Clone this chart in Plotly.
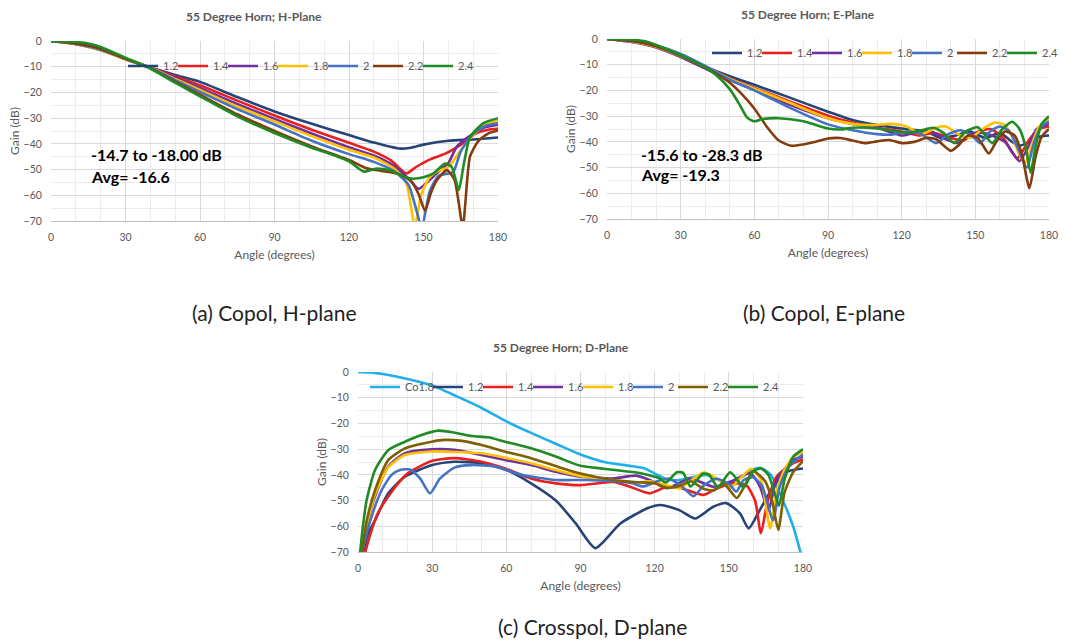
import plotly.graph_objects as go

# ---------------- DATA (angle in degrees, gain in dB) ----------------
SERIES_LABELS = ["1.2", "1.4", "1.6", "1.8", "2", "2.2", "2.4"]

# H-plane copol
H12 = [(0,0),(5,-0.3),(10,-1.2),(20,-3.5),(30,-6.8),(40,-10.3),(50,-13.2),(60,-15.9),(75,-21.8),(90,-27.4),(105,-32.2),(120,-36.6),(130,-39.5),(140,-41.8),(145,-41.5),(150,-40.3),(160,-38.8),(170,-38.3),(180,-37.5)]
H14 = [(0,0),(10,-1.1),(20,-3.3),(30,-6.8),(40,-10.3),(50,-13.8),(60,-17.2),(75,-23.2),(90,-29),(105,-34.5),(120,-39.6),(130,-43),(137,-46.5),(143,-51.5),(147,-49),(152,-46.3),(159,-43.7),(166,-39.7),(171,-36),(176,-34.5),(180,-34)]
H16 = [(0,0),(10,-1.2),(20,-3.5),(30,-7),(40,-10.3),(50,-14.3),(60,-18.3),(75,-24.5),(90,-30.3),(105,-36),(120,-41.3),(130,-44.5),(138,-48.5),(144,-53.5),(148,-57.5),(152,-54.5),(157,-50),(160,-47.5),(163.5,-41),(170,-36),(175,-33.5),(180,-32.5)]
H18 = [(0,0),(10,-1.3),(20,-3.6),(30,-7.2),(40,-10.4),(50,-14.8),(60,-19),(75,-25.5),(90,-31.2),(105,-37),(120,-42.3),(130,-45.3),(138,-49.5),(143,-55),(146.5,-72),(149,-60),(152.5,-53),(156,-50.5),(160,-49),(165,-42.5),(170,-36.5),(175,-32.5),(180,-31)]
H20 = [(0,0),(10,-1.2),(20,-3.4),(30,-7),(40,-10.5),(50,-15.2),(60,-19.8),(75,-26.5),(90,-32.5),(105,-38.8),(120,-44),(130,-47),(138,-50.5),(144,-56),(149.3,-72),(152.5,-58.5),(156,-52.5),(160,-51.5),(162,-51),(165,-43),(170,-36),(175,-33),(180,-32)]
H22 = [(0,0),(10,-1),(20,-3),(30,-6.9),(40,-10.6),(50,-15.8),(60,-20.9),(75,-28.5),(90,-35),(105,-41),(120,-46.3),(127,-49.5),(133,-50.5),(140,-51.7),(145,-54.5),(148,-59.5),(150.6,-66),(153,-59),(155.5,-54),(159.4,-50.2),(162.5,-54),(165.8,-72),(168.7,-45),(172,-39),(176,-36),(180,-34.8)]
H24 = [(0,0),(10,-0.4),(15,-1),(20,-2.3),(30,-6.5),(40,-10.7),(50,-16.2),(60,-21.5),(75,-29.3),(90,-35.8),(105,-41.5),(115,-44.8),(120,-46.8),(126,-50.8),(131,-49.6),(136.5,-50.3),(141,-52.3),(145,-53.5),(150,-53),(154,-51.5),(158.7,-47.7),(161.4,-49),(164.2,-58),(166.3,-47.5),(168.7,-37.5),(174,-32),(180,-30)]

# E-plane copol
E12 = [(0,0),(10,-0.8),(15,-1.5),(20,-2.8),(30,-6.5),(40,-10.8),(50,-14.5),(60,-17.8),(75,-23),(90,-28.3),(100,-31.5),(110,-33.5),(120,-34.8),(130,-36),(136,-38.5),(142,-37.5),(148,-36),(154,-38.5),(160,-36.5),(165,-40),(168,-41.5),(172,-40),(176,-38),(180,-37.5)]
E14 = [(0,0),(10,-1),(20,-3),(30,-6.8),(40,-11),(50,-15.3),(60,-19),(75,-24.5),(90,-29.8),(100,-32.5),(110,-34.5),(120,-36),(127,-37.5),(133,-36.5),(140,-38.5),(145,-39.5),(150,-36.5),(156,-35),(161,-38),(165,-44),(167,-46.5),(169,-44),(172,-39),(176,-35),(180,-34)]
E16 = [(0,0),(10,-1.2),(20,-3.3),(30,-7),(40,-11.5),(50,-16),(60,-19.8),(75,-25.8),(90,-30.8),(100,-33),(110,-34.5),(120,-37.5),(125,-36.5),(132,-36),(138,-39),(143,-40.5),(148,-37),(153,-36.5),(158,-38),(162,-40),(165,-44),(168,-47.5),(171,-43),(175,-35),(180,-33)]
E18 = [(0,0),(10,-1),(20,-3),(30,-6.6),(40,-10.8),(50,-15.5),(60,-19.3),(75,-25),(90,-30.8),(100,-33),(108,-33.5),(115,-33),(122,-34),(128,-37),(134,-34.5),(138,-34),(143,-37),(148,-38.5),(153,-35),(158,-32.5),(162,-33.5),(165,-38),(168,-45),(170.5,-48),(173,-41),(176,-34),(180,-31)]
E20 = [(0,0),(10,-0.8),(20,-2.5),(30,-5.8),(40,-10.5),(50,-15.8),(60,-20),(75,-27),(90,-33.2),(100,-35.5),(110,-37),(116,-37.2),(122,-36),(128,-37),(134,-40.5),(139,-37),(144,-35.5),(149,-38),(152,-40.5),(156,-36),(160,-34),(164,-36),(168,-44),(171,-50),(174,-40),(177,-34),(180,-32)]
E22 = [(0,0),(10,-0.8),(20,-2.8),(30,-6.5),(40,-11),(45,-13.8),(50,-17),(55,-21.5),(60,-27),(65,-34),(70,-39.5),(75,-41.5),(80,-41),(85,-40),(90,-38.7),(95,-38.5),(100,-39.5),(105,-40.5),(110,-39.8),(115,-39.3),(120,-40.5),(125,-40),(130,-38.5),(134,-39),(140,-43.5),(143,-41.5),(147,-37.5),(151,-38.5),(155.5,-44.5),(158.5,-40),(162,-36),(166,-37.5),(169,-45),(172,-58),(174.5,-46),(177,-38),(180,-35)]
E24 = [(0,0),(10,-0.3),(15,-0.8),(20,-2.3),(30,-6.3),(40,-11),(45,-14.5),(50,-19.5),(54,-25.5),(57,-30.5),(60,-32),(63,-31.2),(70,-30.8),(80,-32),(90,-34.8),(95,-35.2),(100,-34.5),(110,-34.8),(120,-36.3),(126,-36),(133,-34.5),(137,-36.5),(141.5,-40.5),(146,-36),(151,-34.3),(154,-37.5),(157,-40.5),(161,-35),(165,-32.2),(168,-35),(170.5,-42),(172.5,-52),(174.5,-42),(177,-33),(180,-30)]

# D-plane: copol 1.8 and crosspol
D_CO18 = [(0,0),(5,-0.2),(10,-0.8),(20,-2.7),(30,-5.2),(40,-9.5),(50,-14),(60,-19.2),(70,-23.7),(80,-27.9),(90,-32.1),(100,-35.1),(110,-36.5),(116,-37.5),(120,-39.5),(125,-41.8),(130,-42),(135,-41),(141,-40),(146,-42),(150,-43.5),(155,-41),(160,-37.8),(163,-37.3),(167,-40),(171,-48),(176,-60),(179.5,-72)]
D12 = [(2,-70.5),(4,-63),(7,-57.5),(12,-47.5),(19,-40.7),(30,-36.2),(39,-34.9),(50,-35.5),(60,-38.1),(70,-43.3),(80,-50),(88,-58.8),(96,-68.5),(106,-59),(117,-53),(122.5,-51.7),(130,-53.7),(136.3,-57),(143.7,-52.4),(149,-51),(154.5,-55),(158,-60.8),(162.5,-53.7),(168,-44.6),(173.4,-38.8),(180,-37.5)]
D14 = [(2.8,-70.5),(5,-63),(8,-55),(12.3,-48.3),(20,-39.5),(29.8,-34.6),(39,-33.5),(50,-34.9),(59.5,-37.5),(70,-41.4),(80,-43.3),(90,-44),(103,-42.8),(110,-44.6),(118,-47.2),(124.9,-44.6),(130,-45),(139.6,-47.8),(143.7,-46),(150.5,-43.3),(157,-44),(160.6,-50),(163,-62.7),(165.5,-51),(169.3,-40.7),(176,-35.5),(180,-34)]
D16 = [(1.5,-70.5),(4,-58),(6.9,-48.3),(12.3,-36.7),(19,-31.6),(29.8,-30.1),(39,-30.3),(50,-32.3),(59.5,-34.2),(70,-36.2),(80,-38.8),(90,-40.7),(103,-41.4),(112.5,-40.3),(118,-42),(125,-45.2),(134.3,-41.4),(143.7,-44.6),(150.5,-42.7),(158.6,-39.4),(162.6,-44.6),(166,-53.7),(169.3,-42),(176,-34.2),(180,-33)]
D18 = [(1.5,-70.5),(4,-58),(6.9,-47.5),(12.3,-37),(19,-32.3),(29.8,-30.9),(39,-31.1),(50,-31.6),(59.5,-33.3),(70,-35.5),(80,-38.1),(90,-40.5),(103,-42),(112,-43),(118,-42.5),(125,-44),(130,-45.3),(135,-42),(140,-39),(146,-42),(150.5,-45),(155,-41),(159,-37.6),(163,-42),(166.7,-60.8),(169.5,-46),(172.5,-38),(176,-33),(180,-31)]
D20 = [(1.5,-70.5),(4.9,-58),(9.6,-45.9),(13.6,-40),(17,-38.1),(21,-37.9),(25.1,-41.4),(29.1,-47.2),(33.2,-41.4),(39.2,-37.1),(46,-36.2),(55.4,-36.7),(66,-40),(80,-42),(92,-42),(103,-42.5),(111,-43.3),(115.5,-44.5),(121,-42.5),(126,-41.5),(131,-44.5),(135.7,-48.3),(140,-44),(145,-41.5),(150,-43.5),(153,-46.5),(156,-42),(160,-41),(163.5,-44.5),(167.9,-57.6),(170.5,-45),(174,-37),(180,-32)]
D22 = [(1.5,-70.5),(3.5,-58),(6.9,-46),(12.3,-34.2),(19,-29.7),(29.8,-27.1),(35,-26.4),(42,-26.8),(50,-28.4),(59.5,-31),(70,-33.5),(80,-36.6),(90,-39.5),(103,-42),(112,-42.8),(120,-43.3),(125,-45),(130,-44.3),(134.5,-42.5),(140,-45.5),(144,-46),(148,-43.5),(153.2,-49),(156.5,-44),(159.8,-38.5),(164.7,-42.5),(167.5,-50),(170,-61.4),(172.5,-47),(176,-39),(180,-34.7)]
D24 = [(0.8,-70.5),(2,-60),(3.5,-49.8),(6.9,-38.1),(12.3,-30.3),(19,-27.1),(25.7,-24.5),(32.4,-22.8),(39.2,-23.6),(46,-24.9),(52.7,-25.4),(59.5,-27.1),(70,-29.7),(80,-32.9),(90,-36.5),(103,-38),(112,-39),(117,-40),(122,-41.4),(124.5,-43),(129,-39),(131.5,-39.2),(134.5,-44.5),(139.6,-39.5),(142,-40),(145.6,-44.8),(150.5,-39),(154.5,-43.3),(156,-45),(160,-38.5),(163,-37.5),(166,-40),(168.5,-47),(170.3,-52),(172.5,-42),(176,-33),(180,-30)]

X_TICKS = [0, 30, 60, 90, 120, 150, 180]
Y_TICKS = [0, -10, -20, -30, -40, -50, -60, -70]

COLORS = ["#264478", "#E8201E", "#7030A0", "#FFC000", "#4472C4", "#843C0C", "#1F8B24"]
D_COLORS = ["#264478", "#E8201E", "#7030A0", "#FFC000", "#4472C4", "#7F6000", "#1F8B24"]
CO_COLOR = "#22AEE6"

W, H = 1068, 642
FONT = "Lato, 'Open Sans', sans-serif"
GRAY = "#595959"

def px(x):
    return x / W

def py(y):
    return 1 - y / H

def entry_w(label):
    # legend entry text allowance so entries are packed like the original
    if label == "2.4":
        return None          # last entry: use its own text width
    if label == "2":
        return 0.01
    if label.startswith("Co"):
        return 18
    return 5

fig = go.Figure()

def add_series(data, name, color, xa, ya, legend):
    xs = [p[0] for p in data]
    ys = [p[1] for p in data]
    fig.add_trace(go.Scatter(x=xs, y=ys, name=name, mode="lines",
                             line=dict(color=color, width=2.6, shape="spline", smoothing=0.6),
                             xaxis=xa, yaxis=ya, legend=legend,
                             legendwidth=entry_w(name)))

for d, n, c in zip([H12, H14, H16, H18, H20, H22, H24], SERIES_LABELS, COLORS):
    add_series(d, n, c, "x", "y", "legend")
for d, n, c in zip([E12, E14, E16, E18, E20, E22, E24], SERIES_LABELS, COLORS):
    add_series(d, n, c, "x2", "y2", "legend2")
add_series(D_CO18, "Co1.8", CO_COLOR, "x3", "y3", "legend3")
for d, n, c in zip([D12, D14, D16, D18, D20, D22, D24], SERIES_LABELS, D_COLORS):
    add_series(d, n, c, "x3", "y3", "legend3")

def xaxis_cfg(dom, anchor):
    return dict(domain=dom, anchor=anchor, range=[0, 180], tickvals=X_TICKS,
                showgrid=True, gridcolor="#D9D9D9", gridwidth=1,
                minor=dict(dtick=10, showgrid=True, gridcolor="#ECECEC", gridwidth=1),
                showline=True, linecolor="#BFBFBF", linewidth=1, zeroline=False,
                ticks="outside", ticklen=6, tickcolor="rgba(0,0,0,0)",
                tickfont=dict(family=FONT, size=10.5, color=GRAY),
                title=dict(text="Angle (degrees)", font=dict(family=FONT, size=12, color=GRAY), standoff=9),
                automargin=False, fixedrange=True)

def yaxis_cfg(dom, anchor):
    return dict(domain=dom, anchor=anchor, range=[-70, 0], tickvals=Y_TICKS,
                showgrid=True, gridcolor="#D9D9D9", gridwidth=1,
                minor=dict(dtick=5, showgrid=True, gridcolor="#ECECEC", gridwidth=1),
                showline=False, zeroline=False,
                ticks="outside", ticklen=6, tickcolor="rgba(0,0,0,0)",
                tickfont=dict(family=FONT, size=10.5, color=GRAY),
                title=dict(text="Gain (dB)", font=dict(family=FONT, size=12, color=GRAY), standoff=1),
                automargin=False, fixedrange=True)

def legend_cfg(x, y):
    return dict(x=x, y=y, xanchor="left", yanchor="middle", orientation="h",
                bgcolor="rgba(0,0,0,0)", font=dict(family=FONT, size=11, color=GRAY),
                itemwidth=30, tracegroupgap=0, traceorder="normal")

fig.update_layout(
    width=W, height=H, margin=dict(l=0, r=0, t=0, b=0, autoexpand=False),
    paper_bgcolor="white", plot_bgcolor="white", showlegend=True,
    xaxis=xaxis_cfg([px(51), px(498)], "y"),
    yaxis=yaxis_cfg([py(221), py(41)], "x"),
    xaxis2=xaxis_cfg([px(607), px(1049)], "y2"),
    yaxis2=yaxis_cfg([py(219), py(39)], "x2"),
    xaxis3=xaxis_cfg([px(358), px(803)], "y3"),
    yaxis3=yaxis_cfg([py(552), py(372)], "x3"),
    legend=legend_cfg(px(123), py(66)),
    legend2=legend_cfg(px(707), py(53)),
    legend3=legend_cfg(px(365), py(387)),
)

def note(text, x, y, size, color, bold=False, xanchor="center"):
    fig.add_annotation(text=text, x=px(x), y=py(y), xref="paper", yref="paper",
                       xanchor=xanchor, yanchor="middle", showarrow=False,
                       font=dict(family=FONT, size=size, color=color, weight="bold" if bold else "normal"))

note("55 Degree Horn; H-Plane", 254, 16, 12, GRAY, bold=True)
note("55 Degree Horn; E-Plane", 808, 15, 12, GRAY, bold=True)
note("55 Degree Horn; D-Plane", 561, 347, 12, GRAY, bold=True)

note("-14.7 to -18.00 dB", 89, 155, 16, "#000000", bold=True, xanchor="left")
note("Avg= -16.6", 89, 177, 16, "#000000", bold=True, xanchor="left")
note("-15.6 to -28.3 dB", 639, 154, 16, "#000000", bold=True, xanchor="left")
note("Avg= -19.3", 639, 175, 16, "#000000", bold=True, xanchor="left")

note("(a) Copol, H-plane", 274, 312, 21, "#222222")
note("(b) Copol, E-plane", 824, 312, 21, "#222222")
note("(c) Crosspol, D-plane", 592, 626, 21, "#222222")

fig.write_html("out.html")
